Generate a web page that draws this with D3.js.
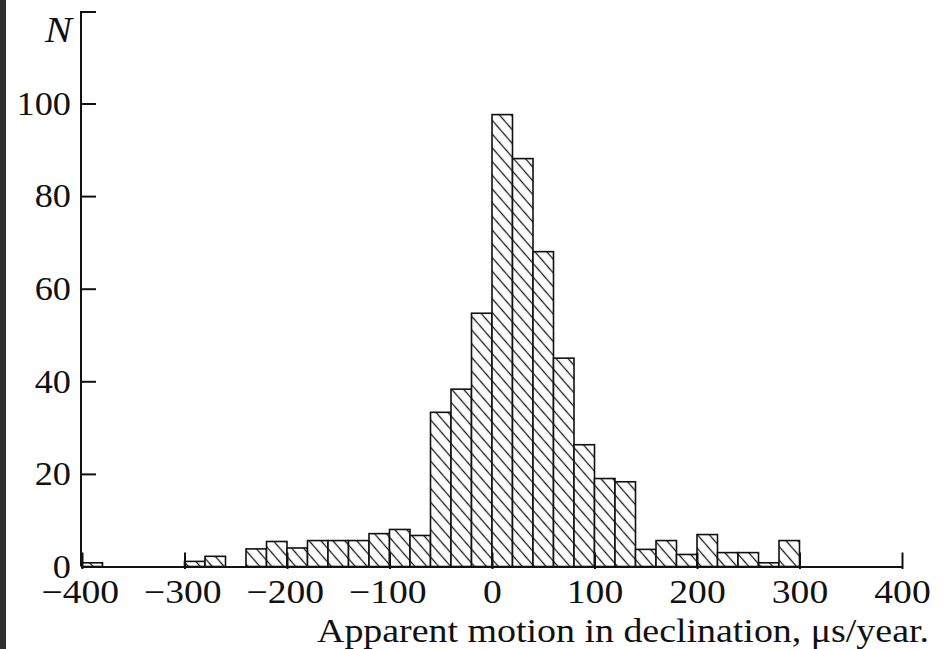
<!DOCTYPE html>
<html>
<head>
<meta charset="utf-8">
<script src="https://cdn.jsdelivr.net/npm/d3@7"></script>
<style>
  html, body { margin: 0; padding: 0; background: #fff; }
  svg { display: block; }
</style>
</head>
<body>
<svg id="chart" width="944" height="649"></svg>
<script>
// Histogram bins (left edge, µs/year), bin width 20
const binStarts = [-400, -380, -360, -340, -320, -300, -280, -260, -240, -220,
                   -200, -180, -160, -140, -120, -100, -80, -60, -40, -20,
                   0, 20, 40, 60, 80, 100, 120, 140, 160, 180,
                   200, 220, 240, 260, 280];
const binWidth = 20;
const counts = [0.8, 0, 0, 0, 0, 1.1, 2.2, 0, 3.8, 5.4,
                4.0, 5.6, 5.6, 5.6, 7.1, 8.0, 6.7, 33.3, 38.3, 54.7,
                97.6, 88.1, 68.0, 45.0, 26.3, 19.0, 18.3, 3.7, 5.6, 2.6,
                6.9, 3.0, 3.0, 0.8, 5.6];
const xTicks = [-400, -300, -200, -100, 0, 100, 200, 300, 400];
const yTicks = [0, 20, 40, 60, 80, 100];
const xTitle = "Apparent motion in declination, \u03bcs/year.";
const yTitle = "N";

const svg = d3.select("#chart");
const FONT = "'Liberation Serif', 'Times New Roman', serif";

// dark strip at left edge of the scan
svg.append("rect").attr("x", 0).attr("y", 0).attr("width", 6).attr("height", 649).attr("fill", "#2f2f2f");

const x = d3.scaleLinear().domain([-400, 400]).range([82, 902]);
const y = d3.scaleLinear().domain([0, 100]).range([566.5, 103.5]);

// hatch pattern
const defs = svg.append("defs");
const pat = defs.append("pattern")
  .attr("id", "hatch")
  .attr("patternUnits", "userSpaceOnUse")
  .attr("width", 9).attr("height", 9)
  .attr("patternTransform", "rotate(-41)");
pat.append("rect").attr("width", 9).attr("height", 9).attr("fill", "#fff");
pat.append("line").attr("x1", 4.5).attr("y1", -1).attr("x2", 4.5).attr("y2", 10)
  .attr("stroke", "#1a1a1a").attr("stroke-width", 1.3);

const data = binStarts.map((s, i) => ({ s, v: counts[i] })).filter(d => d.v > 0);

svg.append("g").selectAll("rect").data(data).join("rect")
  .attr("x", d => x(d.s))
  .attr("y", d => y(d.v))
  .attr("width", d => x(d.s + binWidth) - x(d.s))
  .attr("height", d => y(0) - y(d.v))
  .attr("fill", "url(#hatch)")
  .attr("stroke", "#111")
  .attr("stroke-width", 1.6);

// Y axis
const yAxis = d3.axisLeft(y).tickValues(yTicks).tickSizeInner(-15).tickSizeOuter(0).tickPadding(10);
const gy = svg.append("g").attr("transform", `translate(${x(-400) - 1},0)`).call(yAxis);
gy.select(".domain").remove();
gy.selectAll(".tick line").attr("stroke", "#111").attr("stroke-width", 2);
gy.selectAll(".tick text").attr("font-family", FONT).attr("font-size", 33).attr("fill", "#111")
  .attr("dy", "0.33em").attr("x", -10 / 1.1).attr("transform", "scale(1.1,1)");
// y axis line extended to top with a cap
svg.append("path")
  .attr("d", `M${x(-400) + 14},12 H${x(-400) - 1} V${y(0)}`)
  .attr("fill", "none").attr("stroke", "#111").attr("stroke-width", 2);

// X axis
const xAxis = d3.axisBottom(x).tickValues(xTicks).tickSizeInner(-14).tickSizeOuter(0).tickPadding(0);
const gx = svg.append("g").attr("transform", `translate(0,${y(0)})`).call(xAxis);
gx.select(".domain").attr("stroke", "#111").attr("stroke-width", 2);
gx.selectAll(".tick line").attr("stroke", "#111").attr("stroke-width", 2).attr("y1", 2.5);
gx.selectAll(".tick text").attr("font-family", FONT).attr("font-size", 33).attr("fill", "#111")
  .attr("y", 36.5).attr("dy", 0).attr("x", d => d < 0 ? -2 : 0).attr("transform", "scale(1.14,1)");

// Titles
svg.append("text").attr("x", 317).attr("y", 642)
  .attr("font-family", FONT).attr("font-size", 34).attr("fill", "#111")
  .attr("textLength", 612).attr("lengthAdjust", "spacingAndGlyphs")
  .text(xTitle);
svg.append("text").attr("x", 72).attr("y", 42).attr("text-anchor", "end")
  .attr("font-family", FONT).attr("font-style", "italic").attr("font-size", 36).attr("fill", "#111")
  .attr("textLength", 27).attr("lengthAdjust", "spacingAndGlyphs")
  .text(yTitle);
</script>
</body>
</html>
